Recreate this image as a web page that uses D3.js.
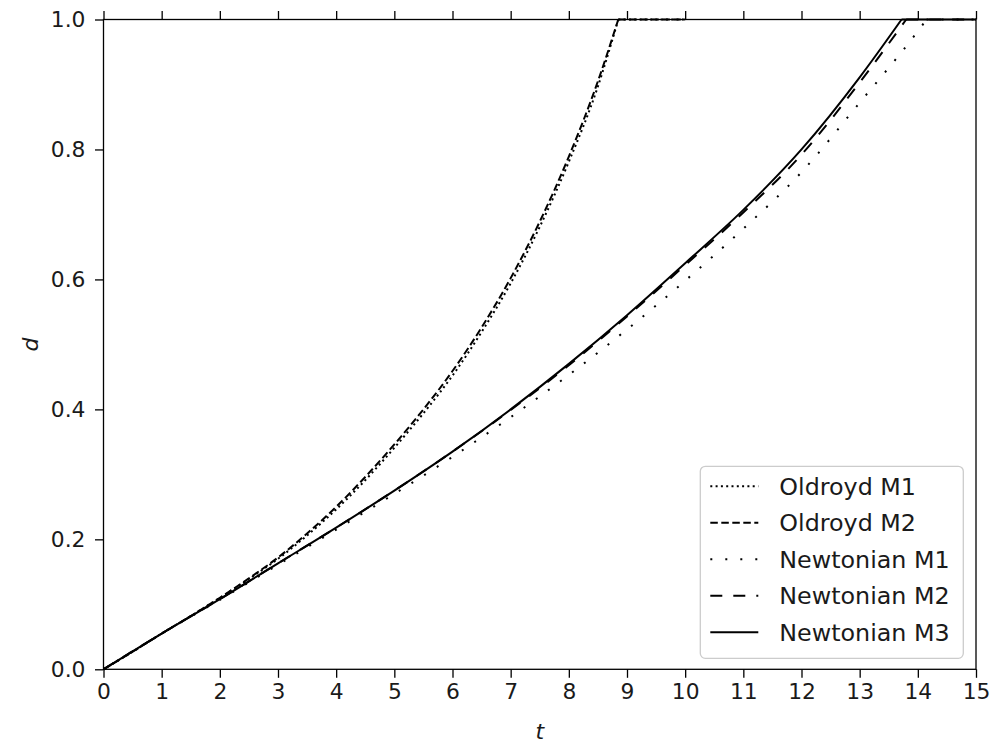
<!DOCTYPE html>
<html>
<head>
<meta charset="utf-8">
<script src="https://cdn.jsdelivr.net/npm/d3@7"></script>
<style>
body{margin:0;background:#fff}
text{font-family:"DejaVu Sans",sans-serif;fill:#1a1a1a}
</style>
</head>
<body>
<svg id="chart"></svg>
<script>
// values (t = time, d = displacement)
var oldroydT=[0,0.5,1,1.5,2,2.5,3,3.5,4,4.5,5,5.5,6,6.5,7,7.5,8,8.5,8.85,10]
var oldroydM1=[0,0.027,0.055,0.082,0.110,0.139,0.170,0.206,0.246,0.291,0.341,0.394,0.452,0.519,0.594,0.681,0.781,0.897,1.0,1.0]
var oldroydM2=[0,0.027,0.055,0.082,0.110,0.140,0.172,0.209,0.250,0.296,0.346,0.400,0.459,0.526,0.602,0.689,0.789,0.905,1.0,1.0]

var newtM1T=[0,1,2,3,4,5,6,7,8,9,10,11,12,13,14,14.15,15]
var newtM1=[0,0.055,0.107,0.161,0.215,0.270,0.327,0.388,0.453,0.523,0.598,0.678,0.765,0.872,0.982,1.0,1.0]
var newtM2T=[0,1,2,3,4,5,6,7,8,9,10,11,12,13,13.8,15]
var newtM2=[0,0.055,0.108,0.163,0.218,0.275,0.335,0.399,0.468,0.543,0.622,0.703,0.792,0.903,1.0,1.0]
var newtM3T=[0,1,2,3,4,5,6,7,8,9,10,11,12,13,13.72,15]
var newtM3=[0,0.055,0.108,0.163,0.218,0.275,0.335,0.400,0.470,0.545,0.625,0.707,0.800,0.911,1.0,1.0]

var seriesNames=["Oldroyd M1","Oldroyd M2","Newtonian M1","Newtonian M2","Newtonian M3"]
var xTicks=[0,1,2,3,4,5,6,7,8,9,10,11,12,13,14,15]
var yTicks=[0.0,0.2,0.4,0.6,0.8,1.0]

//size of screen
var screen={width:990,height:744}
var margins={left:103.5,right:14,top:19.5,bottom:74.7}
var graph={
    width:screen.width-margins.left-margins.right,
    height:screen.height-margins.top-margins.bottom
}

var styles=[
    {dash:"2,3.3"},
    {dash:"7.5,3.5"},
    {dash:"2,13"},
    {dash:"12,11"},
    {dash:null}
]
var series=[
    {name:seriesNames[0],t:oldroydT,d:oldroydM1},
    {name:seriesNames[1],t:oldroydT,d:oldroydM2},
    {name:seriesNames[2],t:newtM1T,d:newtM1},
    {name:seriesNames[3],t:newtM2T,d:newtM2},
    {name:seriesNames[4],t:newtM3T,d:newtM3}
]

var svg=d3.select("#chart")
    .attr("width",screen.width)
    .attr("height",screen.height)

var target=svg.append("g")
    .classed("graph",true)
    .attr("transform","translate("+margins.left+","+margins.top+")")

var xScale=d3.scaleLinear()
    .domain([0,15])
    .range([0,graph.width])
var yScale=d3.scaleLinear()
    .domain([0,1])
    .range([graph.height,0])

var lineGenerator=d3.line()
    .x(function(p){return xScale(p[0])})
    .y(function(p){return yScale(p[1])})
    .curve(d3.curveMonotoneX)

// draw each series: rising part smooth, then the flat part at d=1
series.forEach(function(s,i){
    var pts=s.t.map(function(t,j){return [t,s.d[j]]})
    var k=s.d.indexOf(1.0)
    var parts=[pts.slice(0,k+1),pts.slice(k)]
    target.append("g")
        .classed("line",true)
        .selectAll("path")
        .data(parts)
        .enter()
        .append("path")
        .attr("d",lineGenerator)
        .attr("fill","none")
        .attr("stroke","#000")
        .attr("stroke-width",2)
        .attr("stroke-dasharray",styles[i].dash)
})

// axes
var xAxis=target.append("g")
    .attr("transform","translate(0,"+graph.height+")")
    .call(d3.axisBottom(xScale).tickValues(xTicks).tickSize(8.5).tickPadding(5.5).tickFormat(d3.format("d")))
var topAxis=target.append("g")
    .call(d3.axisTop(xScale).tickValues(xTicks).tickSize(8.5).tickFormat(""))
var yAxis=target.append("g")
    .call(d3.axisLeft(yScale).tickValues(yTicks).tickSize(8.5).tickPadding(9.5).tickFormat(d3.format(".1f")))

target.selectAll(".domain").remove()
target.selectAll(".tick line").attr("stroke","#000").attr("stroke-width",1.3)
target.selectAll(".tick text").style("font-size","21.8px").attr("fill","#1a1a1a")

// frame
target.append("rect")
    .attr("width",graph.width)
    .attr("height",graph.height)
    .attr("fill","none")
    .attr("stroke","#000")
    .attr("stroke-width",1.3)

// axis labels
svg.append("text")
    .attr("x",margins.left+graph.width/2)
    .attr("y",739)
    .attr("text-anchor","middle")
    .style("font-size","22px")
    .style("font-style","italic")
    .text("t")
svg.append("text")
    .attr("transform","translate(37.5,"+(margins.top+graph.height/2)+") rotate(-90)")
    .attr("text-anchor","middle")
    .style("font-size","22px")
    .style("font-style","italic")
    .text("d")

// legend
var legW=263,legH=192,rowH=36.5
var legend=target.append("g")
    .attr("transform","translate("+(graph.width-12.7-legW)+","+(graph.height-11-legH)+")")
legend.append("rect")
    .attr("width",legW)
    .attr("height",legH)
    .attr("rx",5)
    .attr("fill","#fff")
    .attr("fill-opacity",0.8)
    .attr("stroke","#cccccc")
    .attr("stroke-width",1.3)
var rows=legend.selectAll("g.row")
    .data(seriesNames)
    .enter()
    .append("g")
    .classed("row",true)
    .attr("transform",function(n,i){return "translate(0,"+(20+i*rowH)+")"})
rows.append("line")
    .attr("x1",10).attr("x2",58)
    .attr("stroke","#000")
    .attr("stroke-width",2)
    .attr("stroke-dasharray",function(n,i){return styles[i].dash})
rows.append("text")
    .attr("x",79)
    .attr("dy","0.36em")
    .style("font-size","23.8px")
    .text(function(n){return n})
</script>
</body>
</html>
